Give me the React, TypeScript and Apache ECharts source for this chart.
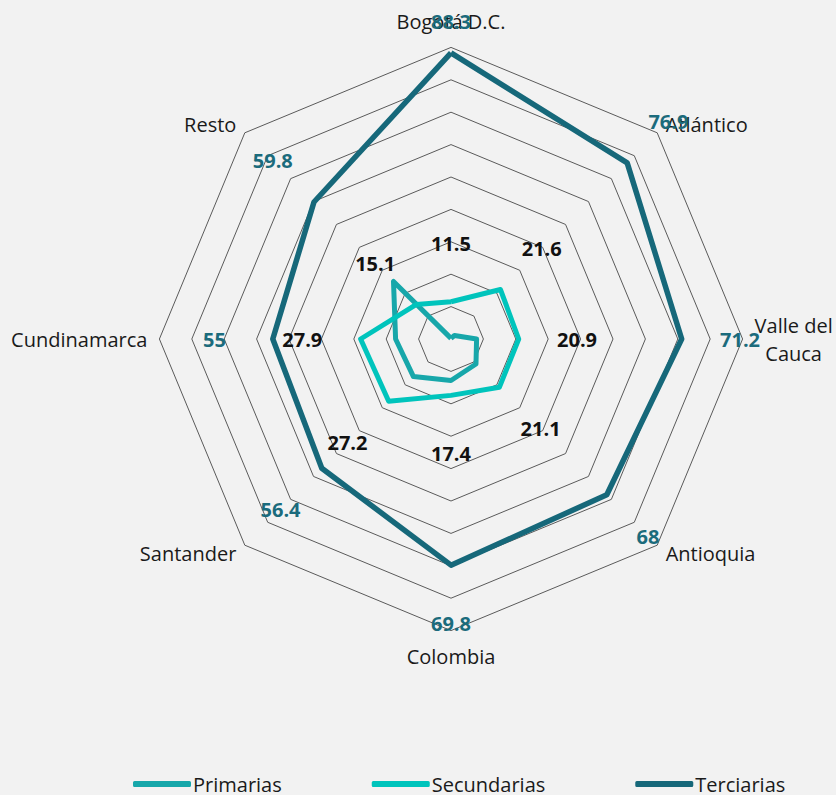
import React, { useEffect, useRef } from "react";
import * as echarts from "echarts";

// Clockwise from the top, as in the reference
const regions = ["Bogotá D.C.", "Atlántico", "Valle del Cauca", "Antioquia", "Colombia", "Santander", "Cundinamarca", "Resto"];
const primarias = [0.2, 1.5, 7.9, 10.9, 12.8, 16.4, 17.1, 25.1];
const secundarias = [11.5, 21.6, 20.9, 21.1, 17.4, 27.2, 27.9, 15.1];
const terciarias = [88.3, 76.9, 71.2, 68, 69.8, 56.4, 55, 59.8];

const seriesNames = ["Primarias", "Secundarias", "Terciarias"];
const colors = ["#17a7aa", "#00c4bc", "#16687a"];

const FONT = "Open Sans";
const LABEL_GAP = 18; // label distance outside the vertex, in axis units
const LABEL_CAP = 98;

// ECharts draws indicators counter-clockwise: reorder
const ccw = (arr: any[]) => [arr[0], ...arr.slice(1).reverse()];

export default function App() {
  const ref = useRef<HTMLDivElement>(null);
  useEffect(() => {
    document.body.style.margin = "0";
    document.body.style.background = "#f2f2f2";
    const chart = echarts.init(ref.current!, null, { renderer: "svg" });

    const tVals = ccw(terciarias);
    const sVals = ccw(secundarias);
    const tLbl = tVals.map((v: number) => Math.min(v + LABEL_GAP, LABEL_CAP));
    const sLbl = sVals.map((v: number) => Math.min(v + LABEL_GAP, LABEL_CAP));
    const fmt = (lbl: number[], orig: number[]) => (p: any) => {
      const v = Array.isArray(p.value) ? p.value[p.dimensionIndex ?? 0] : p.value;
      const k = p.dimensionIndex != null ? p.dimensionIndex : lbl.indexOf(v);
      return String(orig[k]);
    };

    const labelSeries = (name: string, lbl: number[], orig: number[], color: string) => ({
      type: "radar",
      name,
      silent: true,
      symbol: "circle",
      symbolSize: 0,
      itemStyle: { color: "transparent" },
      lineStyle: { opacity: 0, width: 0 },
      z: 5,
      data: [
        {
          value: lbl,
          label: {
            show: true,
            position: "inside",
            formatter: fmt(lbl, orig),
            color,
            fontFamily: FONT,
            fontWeight: "bold",
            fontSize: 20,
          },
        },
      ],
    });

    chart.setOption({
      animation: false,
      backgroundColor: "#f2f2f2",
      textStyle: { fontFamily: FONT },
      legend: {
        data: seriesNames,
        left: 133,
        top: 774,
        padding: 0,
        itemGap: 90,
        itemWidth: 58,
        itemHeight: 6,
        icon: "roundRect",
        textStyle: { fontFamily: FONT, fontSize: 20, lineHeight: 20, color: "#1a1a1a", padding: [0, 0, 0, -3] },
      },
      radar: {
        center: [451, 339],
        radius: 291.6,
        startAngle: 90,
        splitNumber: 9,
        shape: "polygon",
        indicator: ccw(regions).map((n: string) => ({ name: n, min: 0, max: 90 })),
        axisName: {
          color: "#1a1a1a",
          fontFamily: FONT,
          fontSize: 20,
          lineHeight: 28,
          formatter: (name: string) => (name === "Valle del Cauca" ? "Valle del\n{c|Cauca}" : name),
          rich: { c: { align: "center", fontFamily: FONT, fontSize: 20, lineHeight: 28, color: "#1a1a1a" } },
        },
        nameGap: 12,
        axisLine: { show: false },
        axisTick: { show: false },
        axisLabel: { show: false },
        splitArea: { show: false },
        splitLine: { lineStyle: { color: "#5a5a5a", width: 1 } },
      },
      series: [
        {
          type: "radar",
          name: "Primarias",
          symbol: "none",
          z: 2,
          lineStyle: { color: colors[0], width: 5 },
          itemStyle: { color: colors[0] },
          data: [{ value: ccw(primarias), name: "Primarias" }],
        },
        {
          type: "radar",
          name: "Secundarias",
          symbol: "none",
          z: 2,
          lineStyle: { color: colors[1], width: 5 },
          itemStyle: { color: colors[1] },
          data: [{ value: sVals, name: "Secundarias" }],
        },
        {
          type: "radar",
          name: "Terciarias",
          symbol: "none",
          z: 2,
          lineStyle: { color: colors[2], width: 5.5 },
          itemStyle: { color: colors[2] },
          data: [{ value: tVals, name: "Terciarias" }],
        },
        labelSeries("lblS", sLbl, sVals, "#111111"),
        labelSeries("lblT", tLbl, tVals, "#1b6b7c"),
      ],
    });
    return () => chart.dispose();
  }, []);
  return <div ref={ref} style={{ width: 836, height: 795 }} />;
}
